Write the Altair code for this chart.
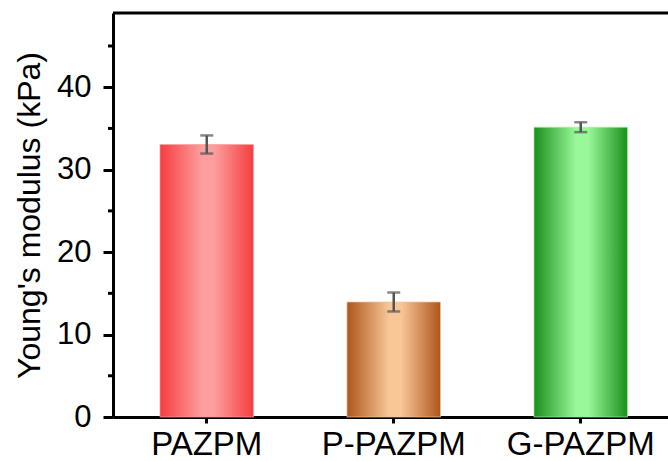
import altair as alt
import pandas as pd

samples = ["PAZPM", "P-PAZPM", "G-PAZPM"]
modulus = [33.05, 13.95, 35.15]
error = [1.1, 1.15, 0.6]
y_ticks = [0, 10, 20, 30, 40]
y_minor = [5, 15, 25, 35, 45]
edge_colors = ["#f63d3e", "#ae561c", "#1b8f1b"]
center_colors = ["#fc9e9e", "#f8c697", "#99f899"]

df = pd.DataFrame({"sample": samples, "modulus": modulus, "err": error})
df["lo"] = df["modulus"] - df["err"]
df["hi"] = df["modulus"] + df["err"]

W, H = 555, 404
FONT = "Liberation Sans"

xscale = alt.Scale(domain=samples, paddingInner=0.5, paddingOuter=0.234, align=0.537)
yscale = alt.Scale(domain=[0, 49], nice=False, zero=True)

x_axis = alt.Axis(
    title=None, labelAngle=0, labelFontSize=33, labelFont=FONT, labelColor="black",
    tickSize=6, tickWidth=3, tickColor="black", domainWidth=3, domainColor="black",
    labelPadding=5, grid=False,
)
y_axis = alt.Axis(
    title="Young's modulus (kPa)", values=y_ticks, format="d",
    titleFontSize=32, titleFont=FONT, titleFontWeight="normal", titleColor="black",
    titleX=-84, titleY=H / 2, titleAngle=-90, titleAlign="center", titleBaseline="middle",
    labelFontSize=31, labelFont=FONT, labelColor="black", labelPadding=12,
    tickSize=10, tickWidth=3, tickColor="black", domainWidth=3, domainColor="black",
    grid=False,
)

X = alt.X("sample:N", scale=xscale, sort=samples, axis=x_axis)

base = alt.Chart(df)

layers = []
for s, e, c in zip(samples, edge_colors, center_colors):
    grad = alt.LinearGradient(
        gradient="linear",
        stops=[
            alt.GradientStop(color=e, offset=0),
            alt.GradientStop(color=c, offset=0.45),
            alt.GradientStop(color=c, offset=0.58),
            alt.GradientStop(color=e, offset=1),
        ],
        x1=0, x2=1, y1=0, y2=0,
    )
    layers.append(
        base.mark_bar(fill=grad, stroke=c, strokeWidth=1, strokeOpacity=0.7)
        .encode(x=X, y=alt.Y("modulus:Q", scale=yscale, axis=y_axis))
        .transform_filter(alt.datum.sample == s)
    )

err_rule = base.mark_rule(color="#555555", strokeWidth=2.5).encode(
    x=X,
    y=alt.Y("lo:Q", scale=yscale, axis=y_axis),
    y2="hi:Q",
)
cap_hi = base.mark_tick(color="#555555", thickness=2.5, size=13).encode(
    x=X, y=alt.Y("hi:Q", scale=yscale, axis=y_axis),
)
cap_lo = base.mark_tick(color="#555555", thickness=2.5, size=13).encode(
    x=X, y=alt.Y("lo:Q", scale=yscale, axis=y_axis),
)

minor = alt.Chart(pd.DataFrame({"v": y_minor})).mark_rule(color="black", strokeWidth=3).encode(
    y=alt.Y("v:Q", scale=yscale, axis=y_axis),
    x=alt.value(-5),
    x2=alt.value(0),
)

top_border = alt.Chart(pd.DataFrame({"a": [0]})).mark_rule(color="black", strokeWidth=3).encode(
    x=alt.value(0), x2=alt.value(W + 5), y=alt.value(0)
)

chart = (
    alt.layer(*layers, err_rule, cap_hi, cap_lo, minor, top_border)
    .properties(
        width=W, height=H,
        autosize=alt.AutoSizeParams(type="none"),
        padding={"left": 113, "top": 13, "right": 0, "bottom": 44},
    )
    .configure_view(stroke=None)
    .configure(background="white")
)

chart.save("out.html", embed_options={"renderer": "svg", "actions": False})
